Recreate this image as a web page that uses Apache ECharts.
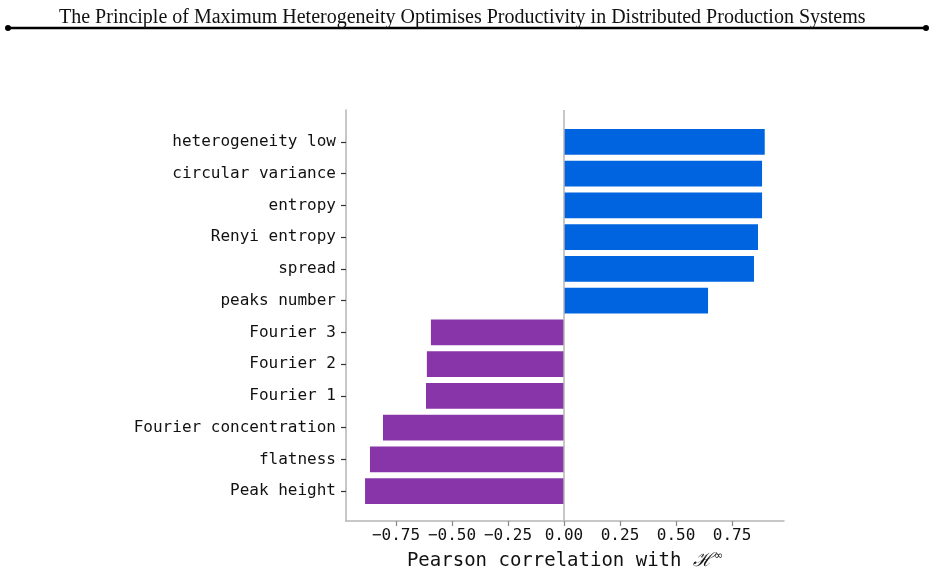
<!DOCTYPE html>
<html><head><meta charset="utf-8">
<script src="https://cdn.jsdelivr.net/npm/echarts@6/dist/echarts.min.js"></script>
<style>html,body{margin:0;padding:0;background:#fff}#c{width:934px;height:572px}</style>
</head><body><div id="c"></div>
<script>
const categories = ["heterogeneity low","circular variance","entropy","Renyi entropy","spread","peaks number","Fourier 3","Fourier 2","Fourier 1","Fourier concentration","flatness","Peak height"];
const correlations = [0.896,0.884,0.884,0.866,0.848,0.643,-0.594,-0.612,-0.616,-0.808,-0.866,-0.888];
const xTicks = [-0.75,-0.5,-0.25,0,0.25,0.5,0.75];
const xMin = -0.973, xMax = 0.982;
const titleText = "The Principle of Maximum Heterogeneity Optimises Productivity in Distributed Production Systems";

const POS = '#0064E1', NEG = '#8835AA';
const mono = 'DejaVu Sans Mono';
const chart = echarts.init(document.getElementById('c'), null, {renderer:'canvas'});
const fmt = v => (v < 0 ? '\u2212' : '') + Math.abs(v).toFixed(2);

chart.setOption({
  animation:false,
  backgroundColor:'#fff',
  title:{text:titleText,left:54,top:3,textStyle:{fontFamily:'Liberation Serif',fontWeight:'normal',fontSize:20,color:'#111'}},
  graphic:[
    {type:'line',shape:{x1:8,y1:28,x2:926,y2:28},style:{stroke:'#000',lineWidth:2.5}},
    {type:'circle',shape:{cx:8,cy:28,r:3},style:{fill:'#000'}},
    {type:'circle',shape:{cx:926,cy:28,r:3},style:{fill:'#000'}}
  ],
  grid:[
    {left:346,right:150,top:110,bottom:51,outerBoundsMode:'none',containLabel:false},
    {left:346,right:150,top:126,bottom:65,outerBoundsMode:'none',containLabel:false}
  ],
  xAxis:[
    {gridIndex:0,type:'value',min:xMin,max:xMax,
     axisLine:{show:true,onZero:false,lineStyle:{color:'#b5b5b5',width:1.5}},
     axisTick:{show:true,length:5,customValues:xTicks,lineStyle:{color:'#888',width:1.2}},
     axisLabel:{customValues:xTicks,formatter:fmt,fontFamily:mono,fontSize:16,color:'#111',margin:7},
     splitLine:{show:false},
     name:'{a|Pearson correlation with }{h|\u210B}{s|\u221E}',nameLocation:'middle',nameGap:30,
     nameTextStyle:{rich:{a:{fontFamily:mono,fontSize:19,color:'#111'},h:{fontFamily:'DejaVu Serif',fontStyle:'italic',fontSize:19,color:'#111'},s:{fontFamily:'DejaVu Sans',fontSize:11,color:'#111',verticalAlign:'top',padding:[0,0,10,1]}}}},
    {gridIndex:1,type:'value',min:xMin,max:xMax,show:false}
  ],
  yAxis:[
    {gridIndex:0,type:'value',min:0,max:1,
     axisLine:{show:true,onZero:false,lineStyle:{color:'#b5b5b5',width:1.5}},
     axisTick:{show:false},axisLabel:{show:false},splitLine:{show:false}},
    {gridIndex:1,type:'category',data:categories,inverse:true,
     axisLine:{show:false,onZero:false},
     axisTick:{show:true,alignWithLabel:true,length:5,lineStyle:{color:'#333',width:1.2}},
     axisLabel:{fontFamily:mono,fontSize:16,color:'#111',margin:10,lineHeight:20,padding:[3,0,0,0]},
     splitLine:{show:false}}
  ],
  series:[
    {type:'line',xAxisIndex:0,yAxisIndex:0,data:[],silent:true,
     markLine:{silent:true,symbol:'none',label:{show:false},lineStyle:{color:'#b5b5b5',width:1.5,type:'solid'},data:[{xAxis:0}]}},
    {type:'bar',xAxisIndex:1,yAxisIndex:1,barWidth:'81%',
     data:correlations.map(v=>({value:v,itemStyle:{color:v>=0?POS:NEG}}))}
  ]
});
</script></body></html>
